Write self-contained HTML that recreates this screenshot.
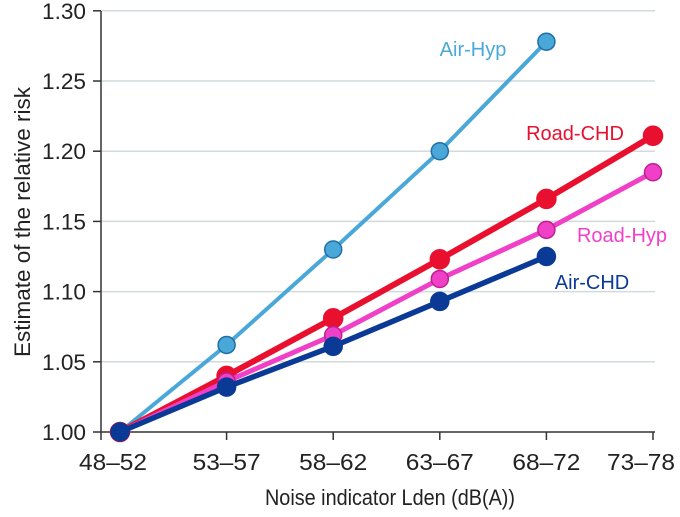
<!DOCTYPE html>
<html><head><meta charset="utf-8"><style>
body{margin:0;background:#fff}
svg{display:block;font-family:"Liberation Sans",sans-serif}
</style></head><body>
<svg id="c" width="680" height="517"></svg>
<script>
const categories=["48–52","53–57","58–62","63–67","68–72","73–78"];
const yTicks=[1.00,1.05,1.10,1.15,1.20,1.25,1.30];
const airHyp=[1.0,1.062,1.13,1.20,1.278];
const roadChd=[1.0,1.040,1.081,1.123,1.166,1.211];
const roadHyp=[1.0,1.036,1.069,1.109,1.144,1.185];
const airChd=[1.0,1.032,1.061,1.093,1.125];
const NS="http://www.w3.org/2000/svg";
const svg=document.getElementById('c');
const X=i=>120+i*106.6;
const Y=v=>432-(v-1)*1404;
function mk(t,a,p){const e=document.createElementNS(NS,t);for(const k in a)e.setAttribute(k,a[k]);(p||svg).appendChild(e);return e;}
yTicks.forEach(v=>{
 if(v>1){const g=mk('line',{x1:101,x2:655,y1:Y(v),y2:Y(v),stroke:'#d3dadd','stroke-width':1.5});
 
 }
 mk('line',{x1:93,x2:101,y1:Y(v),y2:Y(v),stroke:'#333','stroke-width':1.5});
 const l=mk('text',{x:86,y:Y(v)+8,'text-anchor':'end','font-size':22,fill:'#222','textLength':44,'lengthAdjust':'spacingAndGlyphs'});
 l.textContent=v.toFixed(2);
 
 
});
const n=categories.length;
categories.forEach((c,i)=>{
 const tx=i==0?101:X(i);
 mk('line',{x1:tx,x2:tx,y1:432,y2:440,stroke:'#333','stroke-width':1.5});
 const lx=i==0?113:(i==n-1?X(i)-12:X(i));
 const l=mk('text',{x:lx,y:470,'text-anchor':'middle','font-size':23,fill:'#222','textLength':68,'lengthAdjust':'spacingAndGlyphs'});
 l.textContent=c;
 
 
});
const ax=mk('path',{d:'M101 11 V432 H655',fill:'none',stroke:'#333','stroke-width':1.5});


const xt=mk('text',{x:390,y:505,'text-anchor':'middle','font-size':22,fill:'#222','textLength':250,'lengthAdjust':'spacingAndGlyphs'});
xt.textContent='Noise indicator Lden (dB(A))';


const yt=mk('text',{x:0,y:0,'text-anchor':'middle','font-size':22,fill:'#222',transform:'translate(30,222) rotate(-90)','textLength':270,'lengthAdjust':'spacingAndGlyphs'});
yt.textContent='Estimate of the relative risk';


const series=[
 {d:airHyp,c:'#4aa8d8',s:'#1f6fa8',n:'air-hyp',w:4,r:8.5,lab:'Air-Hyp',lx:473,ly:56},
 {d:roadChd,c:'#e8102e',s:'#e8102e',n:'road-chd',w:6,r:9.5,lab:'Road-CHD',lx:575,ly:140},
 {d:roadHyp,c:'#f040c8',s:'#c0208e',n:'road-hyp',w:5,r:8.5,lab:'Road-Hyp',lx:622,ly:242},
 {d:airChd,c:'#0a3a96',s:'#0a3a96',n:'air-chd',w:5.5,r:9,lab:'Air-CHD',lx:592,ly:289}
];
series.forEach(S=>{
 const g=mk('g',{});
 
 
 mk('polyline',{points:S.d.map((v,i)=>X(i)+','+Y(v)).join(' '),fill:'none',stroke:S.c,'stroke-width':S.w},g);
 S.d.forEach((v,i)=>{
  const p=mk('circle',{cx:X(i),cy:Y(v),r:S.r,fill:S.c,stroke:S.s,'stroke-width':1.5},g);
  
  
 });
 const t=mk('text',{x:S.lx,y:S.ly,'text-anchor':'middle','font-size':20,fill:S.c});
 t.textContent=S.lab;
 
 
});
</script>
</body></html>
